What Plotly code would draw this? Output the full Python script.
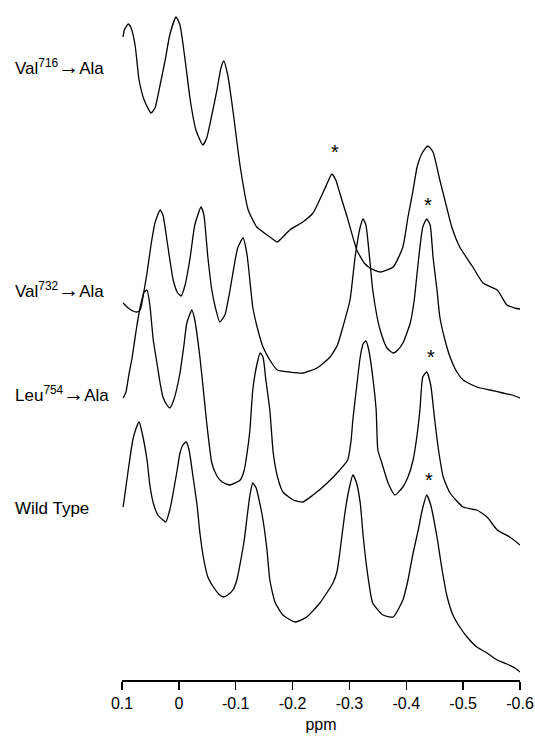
import plotly.graph_objects as go

# ---- data (ppm, intensity) ----
ARROW = "<span style='font-size:21px'>→</span>"
names = ["Val<sup>716</sup>" + ARROW + "Ala", "Val<sup>732</sup>" + ARROW + "Ala",
         "Leu<sup>754</sup>" + ARROW + "Ala", "Wild Type"]
offsets = [330, 270, 130, 0]
label_y = [614, 391, 287, 172]

val716_ppm = [0.098, 0.096, 0.089, 0.084, 0.077, 0.070, 0.061, 0.049, 0.042, 0.033, 0.024, 0.016, 0.005,
              -0.002, -0.011, -0.020, -0.030, -0.042, -0.049, -0.058, -0.067, -0.074, -0.079, -0.086,
              -0.095, -0.108, -0.122, -0.137, -0.148, -0.160, -0.173, -0.195, -0.218, -0.236, -0.254,
              -0.262, -0.269, -0.276, -0.283, -0.296, -0.313, -0.326, -0.336, -0.354, -0.377, -0.394,
              -0.403, -0.412, -0.419, -0.428, -0.438, -0.447, -0.459, -0.470, -0.480, -0.494, -0.517,
              -0.535, -0.560, -0.577, -0.591, -0.600]
val716_int = [313, 320, 326, 322, 305, 270, 250, 237, 242, 265, 290, 315, 333,
              325, 290, 250, 220, 205, 212, 235, 260, 282, 289, 275,
              240, 183, 140, 123, 118, 113, 108, 120, 128, 137, 158,
              168, 176, 170, 157, 133, 100, 87, 82, 78, 83, 103,
              133, 160, 183, 197, 204, 198, 170, 145, 123, 103, 83,
              67, 60, 45, 42, 41]

val732_ppm = [0.098, 0.089, 0.081, 0.074, 0.068, 0.061, 0.056, 0.049, 0.042, 0.033, 0.028, 0.021, 0.010,
              0.002, -0.004, -0.011, -0.020, -0.028, -0.039, -0.044, -0.051, -0.058, -0.064, -0.072,
              -0.081, -0.090, -0.099, -0.104, -0.113, -0.120, -0.130, -0.139, -0.148, -0.160, -0.173,
              -0.195, -0.218, -0.243, -0.266, -0.279, -0.287, -0.301, -0.310, -0.319, -0.324, -0.329,
              -0.341, -0.348, -0.354, -0.366, -0.377, -0.385, -0.394, -0.407, -0.414, -0.419, -0.429,
              -0.436, -0.442, -0.447, -0.454, -0.459, -0.468, -0.477, -0.489, -0.500, -0.524, -0.547,
              -0.570, -0.586, -0.600]
val732_int = [107, 102, 99, 98, 100, 120, 137, 165, 187, 200, 195, 170, 130,
              117, 114, 125, 153, 185, 203, 195, 153, 120, 103, 88,
              95, 120, 150, 163, 172, 155, 103, 80, 63, 50, 40,
              38, 37, 42, 53, 65, 80, 110, 153, 183, 191, 185,
              120, 95, 80, 62, 57, 60, 67, 87, 110, 137, 183,
              191, 185, 153, 120, 93, 70, 53, 38, 30, 23, 20,
              17, 15, 12]

leu754_ppm = [0.098, 0.093, 0.088, 0.082, 0.075, 0.068, 0.061, 0.056, 0.051, 0.045, 0.038, 0.033, 0.028,
              0.021, 0.016, 0.009, -0.002, -0.009, -0.014, -0.023, -0.028, -0.037, -0.044, -0.049,
              -0.058, -0.067, -0.076, -0.090, -0.108, -0.115, -0.120, -0.125, -0.130, -0.137, -0.143,
              -0.148, -0.153, -0.160, -0.166, -0.174, -0.183, -0.201, -0.218, -0.236, -0.261, -0.283,
              -0.297, -0.303, -0.306, -0.312, -0.319, -0.324, -0.329, -0.334, -0.341, -0.347, -0.350,
              -0.357, -0.368, -0.380, -0.394, -0.403, -0.412, -0.419, -0.424, -0.429, -0.436, -0.443,
              -0.450, -0.458, -0.465, -0.477, -0.500, -0.524, -0.542, -0.560, -0.582, -0.600]
leu754_int = [152, 158, 175, 193, 220, 243, 258, 260, 245, 210, 185, 167, 153,
              145, 142, 150, 177, 205, 227, 240, 230, 193, 155, 127,
              87, 74, 68, 65, 70, 80, 97, 120, 160, 185, 197,
              193, 170, 140, 97, 72, 58, 50, 48, 55, 67, 80,
              90, 110, 130, 160, 193, 206, 209, 200, 173, 140, 100,
              87, 67, 55, 63, 73, 90, 115, 140, 173, 178, 165,
              130, 95, 73, 57, 43, 40, 33, 20, 13, 5]

wt_ppm = [0.098, 0.089, 0.081, 0.075, 0.070, 0.065, 0.056, 0.051, 0.045, 0.037, 0.028, 0.023, 0.016,
          0.010, 0.003, -0.002, -0.007, -0.013, -0.018, -0.025, -0.032, -0.037, -0.044, -0.051,
          -0.062, -0.072, -0.078, -0.086, -0.095, -0.102, -0.108, -0.115, -0.120, -0.125, -0.130,
          -0.136, -0.143, -0.148, -0.155, -0.160, -0.169, -0.183, -0.204, -0.225, -0.248, -0.271,
          -0.278, -0.283, -0.292, -0.299, -0.306, -0.312, -0.319, -0.324, -0.331, -0.341, -0.359,
          -0.377, -0.394, -0.403, -0.412, -0.421, -0.428, -0.436, -0.443, -0.454, -0.463, -0.472,
          -0.482, -0.494, -0.507, -0.524, -0.542, -0.560, -0.577, -0.591, -0.600]
wt_int = [173, 210, 240, 252, 258, 248, 220, 195, 177, 165, 160, 158, 170,
          187, 210, 227, 235, 238, 230, 203, 175, 147, 120, 103,
          92, 85, 83, 85, 90, 100, 117, 140, 163, 185, 197,
          192, 175, 160, 130, 100, 78, 65, 58, 63, 77, 97,
          108, 127, 167, 190, 205, 198, 177, 145, 110, 77, 65,
          63, 80, 100, 127, 150, 170, 185, 175, 143, 110, 83,
          65, 53, 43, 33, 27, 20, 16, 12, 8]

star_ppm = [-0.275, -0.438, -0.443, -0.440]
star_y = [533, 480, 328, 205]

tick_vals = [0.1, 0, -0.1, -0.2, -0.3, -0.4, -0.5, -0.6]
tick_text = ["0.1", "0", "-0.1", "-0.2", "-0.3", "-0.4", "-0.5", "-0.6"]

series = [(val716_ppm, val716_int), (val732_ppm, val732_int),
          (leu754_ppm, leu754_int), (wt_ppm, wt_int)]

FONT = "Liberation Sans, Arial, Helvetica, sans-serif"

fig = go.Figure()
for (xs, ys), off in zip(series, offsets):
    fig.add_trace(go.Scatter(x=xs, y=[v + off for v in ys], mode="lines",
                             line=dict(color="black", width=1.3, shape="spline", smoothing=0.5),
                             showlegend=False, hoverinfo="skip"))

annotations = []
for name, ly in zip(names, label_y):
    annotations.append(dict(text=name, x=-0.274, xref="paper", y=ly, yref="y",
                            xanchor="left", yanchor="middle", showarrow=False,
                            font=dict(family=FONT, size=17, color="black")))
for sx, sy in zip(star_ppm, star_y):
    annotations.append(dict(text="*", x=sx, y=sy, xref="x", yref="y",
                            xanchor="center", yanchor="middle", showarrow=False, yshift=-5,
                            font=dict(family=FONT, size=20, color="black")))

fig.update_layout(
    width=535, height=738,
    margin=dict(l=122, r=15, t=0, b=58),
    paper_bgcolor="white", plot_bgcolor="white",
    font=dict(family=FONT, color="black"),
    annotations=annotations,
    xaxis=dict(range=[0.1, -0.6], tickvals=tick_vals, ticktext=tick_text,
               showline=True, linecolor="black", linewidth=1.5,
               ticks="outside", ticklen=8, tickwidth=1.5, tickcolor="black",
               showgrid=False, zeroline=False,
               tickfont=dict(family=FONT, size=16, color="black"),
               title=dict(text="ppm", font=dict(family=FONT, size=16, color="black"), standoff=8)),
    yaxis=dict(range=[0, 680], visible=False, showgrid=False, zeroline=False),
)

fig.write_html("out.html", config={"displayModeBar": False, "staticPlot": True},
               post_script="document.body.style.margin='0px';document.body.style.overflow='hidden';")
